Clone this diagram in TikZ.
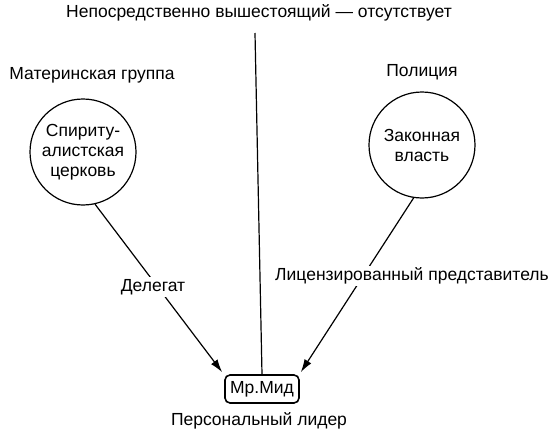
\documentclass[tikz,border=0pt]{standalone}
\usepackage{fontspec}
\setmainfont{Liberation Sans}
\usetikzlibrary{arrows.meta,positioning}

\begin{document}
\begin{tikzpicture}[x=1pt, y=-1pt,
    txt/.style={font=\fontsize{17.5}{20}\selectfont, inner sep=2pt},
    group/.style={circle, draw, line width=1.2pt, minimum size=106pt,
        inner sep=0pt, align=center, font=\fontsize{17.5}{20}\selectfont},
    leader/.style={rectangle, draw, line width=1.6pt, rounded corners=5pt,
        minimum width=74pt, minimum height=28pt, inner sep=2pt,
        font=\fontsize{17.5}{20}\selectfont},
    arr/.style={-{Latex[length=13pt, width=8pt]}, line width=1.2pt}
]
    \useasboundingbox (0,0) rectangle (550,434);

    \node[txt] (superior) at (259,13) {Непосредственно вышестоящий — отсутствует};
    \coordinate (topend) at (255,33);

    \node[txt] (mother) at (92,75) {Материнская группа};
    \node[group] (church) at (83,152) {Спириту-\\алистская\\церковь};

    \node[txt] (police) at (422,72) {Полиция};
    \node[group] (law) at (422,145) {Законная\\власть};

    \node[leader] (mead) at (262,389) {Мр.Мид};
    \node[txt] (personal) at (259,421) {Персональный лидер};

    \draw[line width=1.2pt] (topend) -- (mead.north);
    \draw[arr] (church.-77) -- ([xshift=-2pt, yshift=2pt]mead.north west);
    \draw[arr] (law.-99) -- ([xshift=1pt, yshift=2pt]mead.north east);

    \node[txt, fill=white] (delegate) at (153,287) {Делегат};
    \node[txt, fill=white] (licensed) at (412,276) {Лицензированный представитель};
\end{tikzpicture}
\end{document}
